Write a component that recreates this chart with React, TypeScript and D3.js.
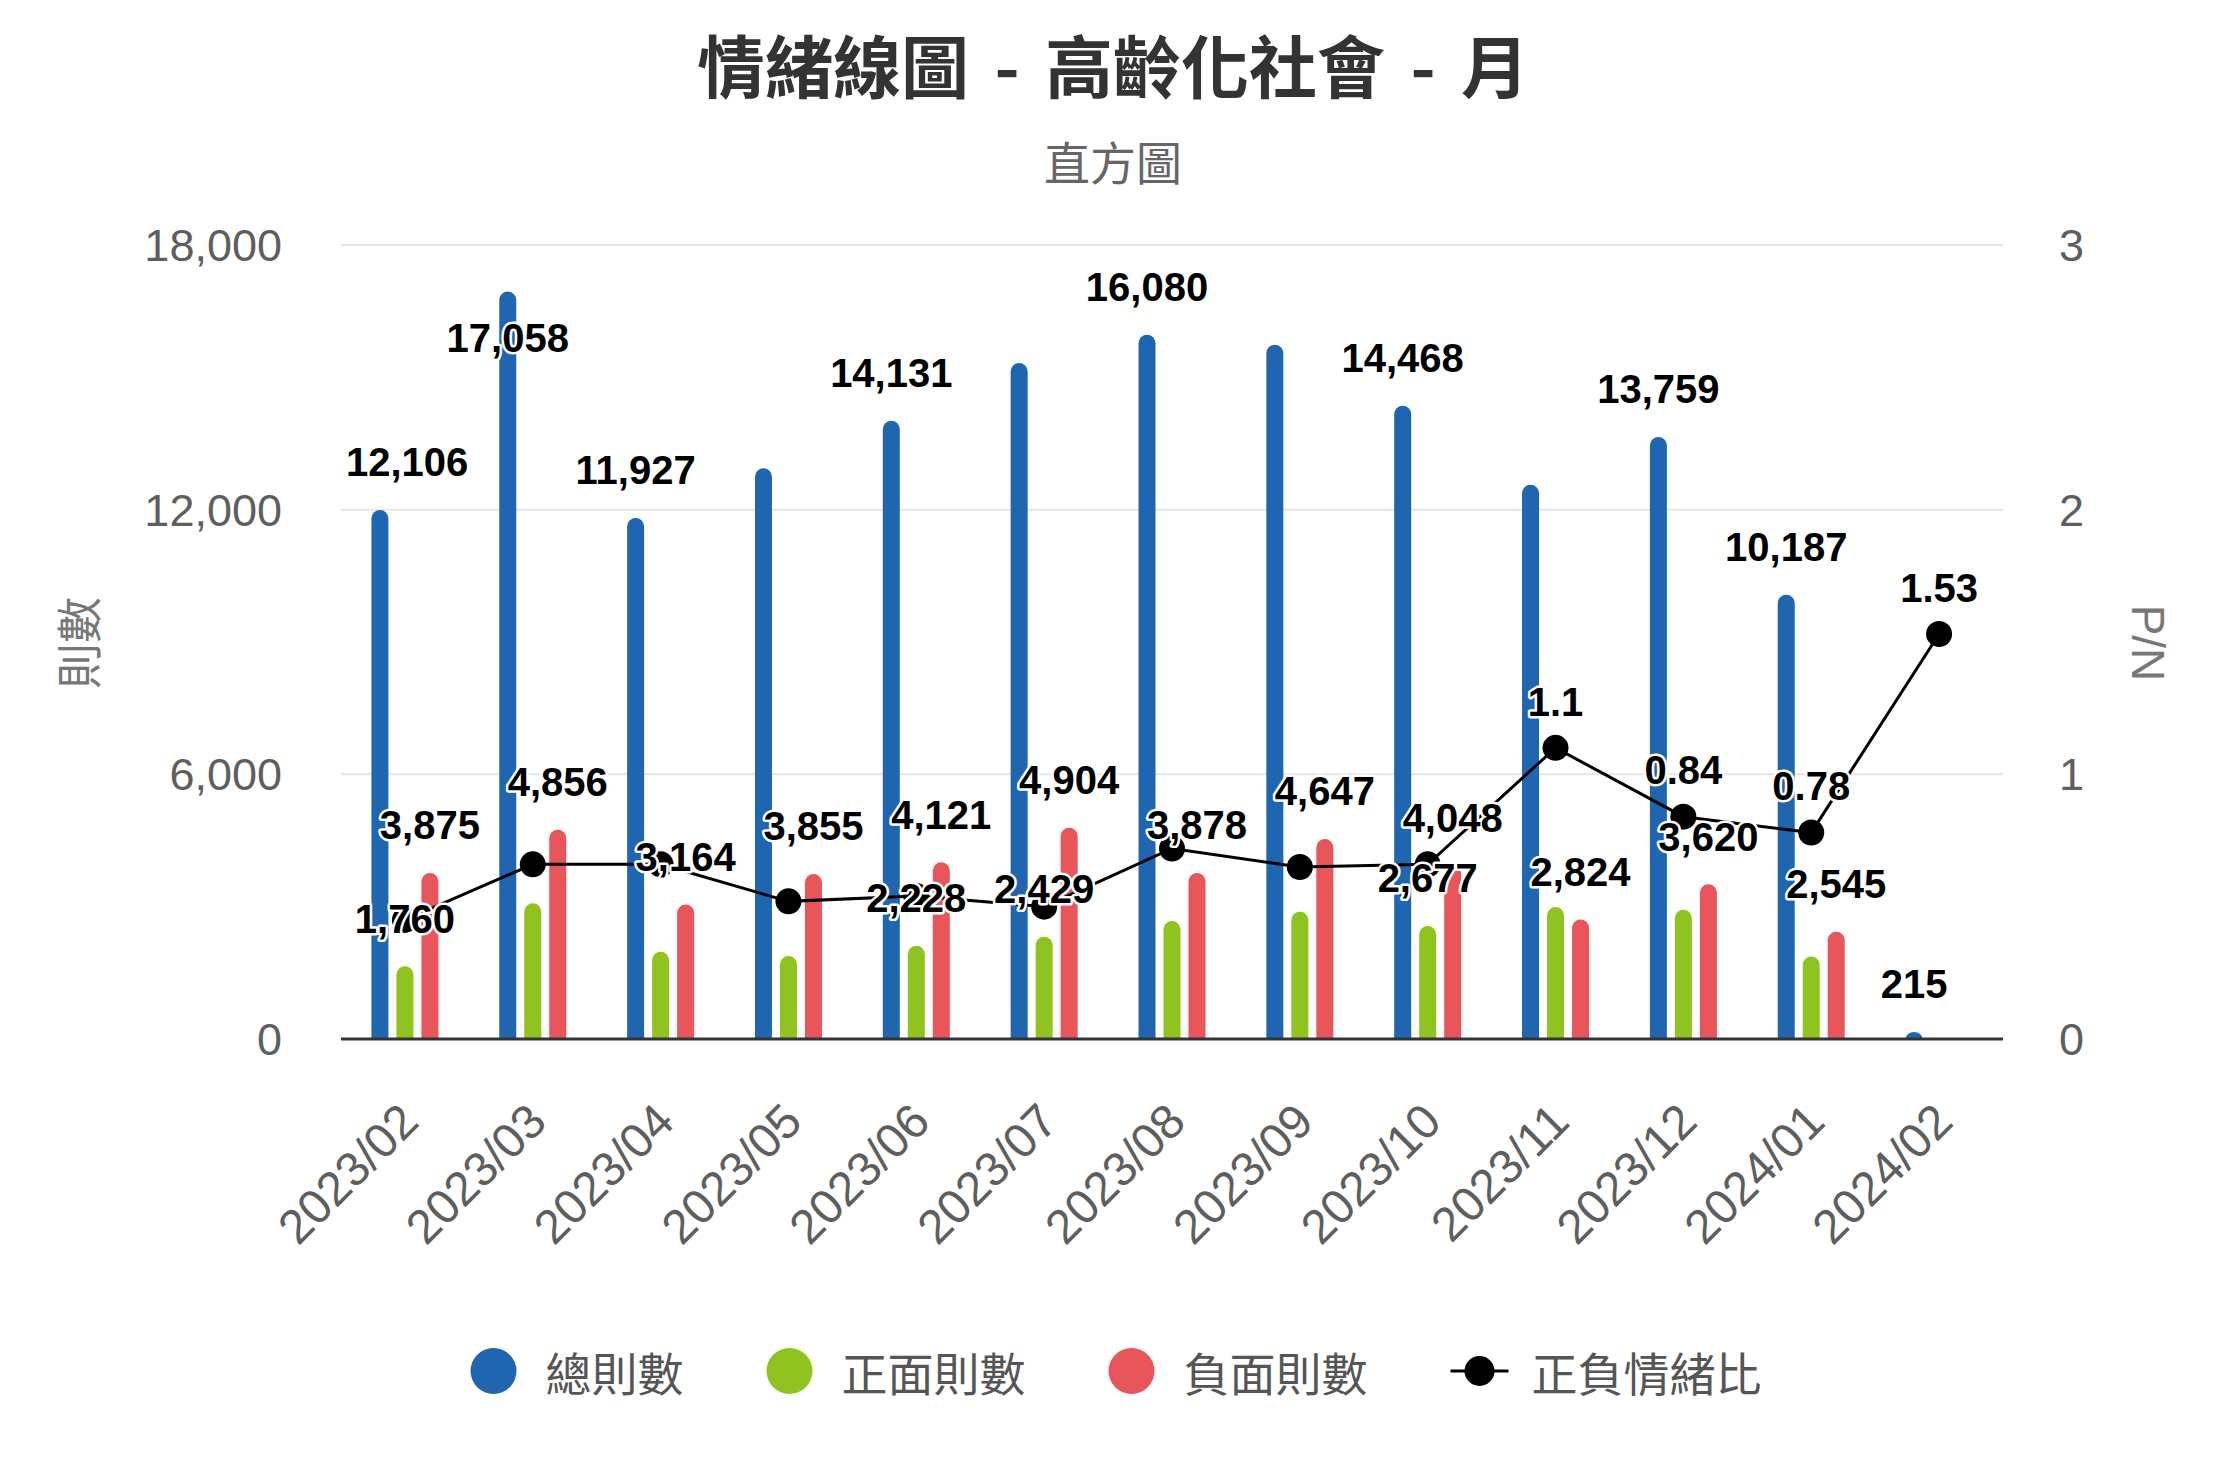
import React from 'react';
import * as d3 from 'd3';

const categories = ['2023/02', '2023/03', '2023/04', '2023/05', '2023/06', '2023/07', '2023/08', '2023/09', '2023/10', '2023/11', '2023/12', '2024/01', '2024/02'];
const totalCounts = [12106, 17058, 11927, 13050, 14131, 15440, 16080, 15850, 14468, 12680, 13759, 10187, 215];
const positiveCounts = [1760, 3190, 2090, 1995, 2228, 2429, 2790, 3000, 2677, 3106, 3041, 1985, 23];
const negativeCounts = [3875, 4856, 3164, 3855, 4121, 4904, 3878, 4647, 4048, 2824, 3620, 2545, 15];
const ratios = [0.45, 0.66, 0.66, 0.52, 0.54, 0.5, 0.72, 0.65, 0.66, 1.1, 0.84, 0.78, 1.53];
const leftTicks = [0, 6000, 12000, 18000];
const rightTicks = [0, 1, 2, 3];
const seriesNames = ['總則數', '正面則數', '負面則數', '正負情緒比'];
const titleText = '情緒線圖 - 高齡化社會 - 月';
const subtitleText = '直方圖';
const leftAxisTitle = '則數';
const rightAxisTitle = 'P/N';

const W = 2226;
const H = 1484;
const PL = 341;
const PR = 2003;
const PT = 245;
const PB = 1039;
const COLORS = ['#1f65b0', '#8fc31f', '#e8555a'];
const BAR_W = 17;
const BAR_INSET = 5;
const OFFSETS = [-25, 0, 25];
const LABEL_FS = 40;
const LABEL_PAD = 5;
const LABEL_H = 54;
const CJK = '"Noto Sans CJK TC", "Noto Sans", sans-serif';
const LATIN = '"Liberation Sans", Arial, sans-serif';

function textW(s: string) {
  let u = 0;
  for (const c of s) u += /[0-9]/.test(c) ? 0.556 : 0.278;
  return u * LABEL_FS;
}

function barPath(x0: number, w: number, yTop: number, yBottom: number) {
  const h = yBottom - yTop;
  if (h <= 1) return '';
  const r = Math.min(w / 2, h);
  return `M${x0},${yBottom}V${yTop + r}A${w / 2},${r} 0 0 1 ${x0 + w},${yTop + r}V${yBottom}Z`;
}

type Lbl = { key: string; text: string; x: number; cy: number; rank: number; w: number; visible: boolean };

export default function App() {
  const x = d3.scaleBand<string>().domain(categories).range([PL, PR]).paddingInner(0).paddingOuter(0);
  const yL = d3.scaleLinear().domain([0, 18000]).range([PB, PT]);
  const yR = d3.scaleLinear().domain([0, 3]).range([PB, PT]);
  const fmt = d3.format(',');
  const cx = (c: string) => (x(c) as number) + x.bandwidth() / 2;
  const barTop = (v: number) => yL(v) + Math.min(BAR_INSET, (yL(0) - yL(v)) * 0.25);

  const barSeries = [totalCounts, positiveCounts, negativeCounts];

  const labels: Lbl[] = [];
  barSeries.forEach((vals, si) => {
    vals.forEach((v, i) => {
      const top = barTop(v);
      const text = fmt(v);
      const w = textW(text) + 2 * LABEL_PAD;
      let lx = cx(categories[i]) + OFFSETS[si];
      lx = Math.max(PL + w / 2, Math.min(PR - w / 2, lx));
      let cy = top - 48;
      if (cy - LABEL_H / 2 < PT) cy = top + 46;
      labels.push({ key: `b${si}-${i}`, text, x: lx, cy, rank: yL(0) - yL(v), w, visible: true });
    });
  });
  ratios.forEach((r, i) => {
    const text = String(r);
    const w = textW(text) + 2 * LABEL_PAD;
    let lx = cx(categories[i]);
    lx = Math.max(PL + w / 2, Math.min(PR - w / 2, lx));
    labels.push({ key: `r-${i}`, text, x: lx, cy: yR(r) - 46.5, rank: 0, w, visible: true });
  });
  const sorted = [...labels].sort((a, b) => b.rank - a.rank);
  for (let i = 0; i < sorted.length; i++) {
    const a = sorted[i];
    if (!a.visible) continue;
    for (let j = i + 1; j < sorted.length; j++) {
      const b = sorted[j];
      if (!b.visible) continue;
      if (Math.abs(a.x - b.x) < (a.w + b.w) / 2 && Math.abs(a.cy - b.cy) < LABEL_H) b.visible = false;
    }
  }

  const line = d3
    .line<number>()
    .x((_, i) => cx(categories[i]))
    .y((d) => yR(d));

  // legend layout
  const LEG_Y = 1371;
  const LEG_FS = 46;
  const legendItems: { name: string; kind: 'dot' | 'line'; color: string; width: number }[] = seriesNames.map((n, i) => ({
    name: n,
    kind: i < 3 ? 'dot' : 'line',
    color: i < 3 ? COLORS[i] : '#000',
    width: (i < 3 ? 75 : 81) + n.length * LEG_FS,
  }));
  const GAP = 83;
  const totalLegW = legendItems.reduce((s, it) => s + it.width, 0) + GAP * (legendItems.length - 1);
  let lx0 = W / 2 - totalLegW / 2 + 3;
  const legendPos = legendItems.map((it) => {
    const p = lx0;
    lx0 += it.width + GAP;
    return p;
  });

  return (
    <svg width={W} height={H} style={{ position: 'absolute', left: 0, top: 0, background: '#fff' }}>
      <rect x={0} y={0} width={W} height={H} fill="#fff" />
      <text x={W / 2} y={63} textAnchor="middle" dominantBaseline="central" fontFamily={CJK} fontSize={68} fontWeight={700} fill="#333" wordSpacing={10}>
        {titleText}
      </text>
      <text x={W / 2} y={160} textAnchor="middle" dominantBaseline="central" fontFamily={CJK} fontSize={46} fill="#666">
        {subtitleText}
      </text>

      {leftTicks
        .filter((t) => t !== 0)
        .map((t) => (
          <line key={`g${t}`} x1={PL} x2={PR} y1={yL(t)} y2={yL(t)} stroke="#e6e6e6" strokeWidth={2} />
        ))}

      {barSeries.map((vals, si) => (
        <g key={`s${si}`} fill={COLORS[si]}>
          {vals.map((v, i) => (
            <path key={i} d={barPath(cx(categories[i]) + OFFSETS[si] - BAR_W / 2, BAR_W, barTop(v), yL(0))} />
          ))}
        </g>
      ))}

      <line x1={PL} x2={PR} y1={PB} y2={PB} stroke="#333" strokeWidth={3} />

      <path d={line(ratios) || ''} fill="none" stroke="#000" strokeWidth={3} />
      {ratios.map((r, i) => (
        <circle key={i} cx={cx(categories[i])} cy={yR(r)} r={13} fill="#000" />
      ))}

      {labels
        .filter((l) => l.visible)
        .map((l) => (
          <text
            key={l.key}
            x={l.x}
            y={l.cy + 14.3}
            textAnchor="middle"
            fontFamily={LATIN}
            fontWeight={700}
            fontSize={LABEL_FS}
            fill="#000"
            stroke="#fff"
            strokeWidth={5}
            strokeLinejoin="round"
            style={{ paintOrder: 'stroke' }}
          >
            {l.text}
          </text>
        ))}

      {leftTicks.map((t) => (
        <text key={`lt${t}`} x={282} y={yL(t) + 16} textAnchor="end" fontFamily={LATIN} fontSize={45} fill="#5e5e5e">
          {fmt(t)}
        </text>
      ))}
      {rightTicks.map((t) => (
        <text key={`rt${t}`} x={2059} y={yR(t) + 16} textAnchor="start" fontFamily={LATIN} fontSize={45} fill="#5e5e5e">
          {t}
        </text>
      ))}

      <text transform={`translate(76,643) rotate(-90)`} textAnchor="middle" dominantBaseline="central" fontFamily={CJK} fontSize={46} fill="#777">
        {leftAxisTitle}
      </text>
      <text transform={`translate(2148,643) rotate(90)`} textAnchor="middle" dominantBaseline="central" fontFamily={LATIN} fontSize={46} fill="#777">
        {rightAxisTitle}
      </text>

      {categories.map((c) => (
        <text key={c} transform={`translate(${cx(c) + 16},1124) rotate(-45)`} textAnchor="end" fontFamily={LATIN} fontSize={48} fill="#5e5e5e">
          {c}
        </text>
      ))}

      {legendItems.map((it, i) => {
        const p = legendPos[i];
        if (it.kind === 'dot') {
          return (
            <g key={it.name}>
              <circle cx={p + 23} cy={LEG_Y} r={23} fill={it.color} />
              <text x={p + 75} y={LEG_Y} dominantBaseline="central" fontFamily={CJK} fontSize={LEG_FS} fill="#555">
                {it.name}
              </text>
            </g>
          );
        }
        return (
          <g key={it.name}>
            <line x1={p} x2={p + 58} y1={LEG_Y} y2={LEG_Y} stroke="#000" strokeWidth={3} />
            <circle cx={p + 29} cy={LEG_Y} r={15} fill="#000" />
            <text x={p + 81} y={LEG_Y} dominantBaseline="central" fontFamily={CJK} fontSize={LEG_FS} fill="#555">
              {it.name}
            </text>
          </g>
        );
      })}
    </svg>
  );
}
